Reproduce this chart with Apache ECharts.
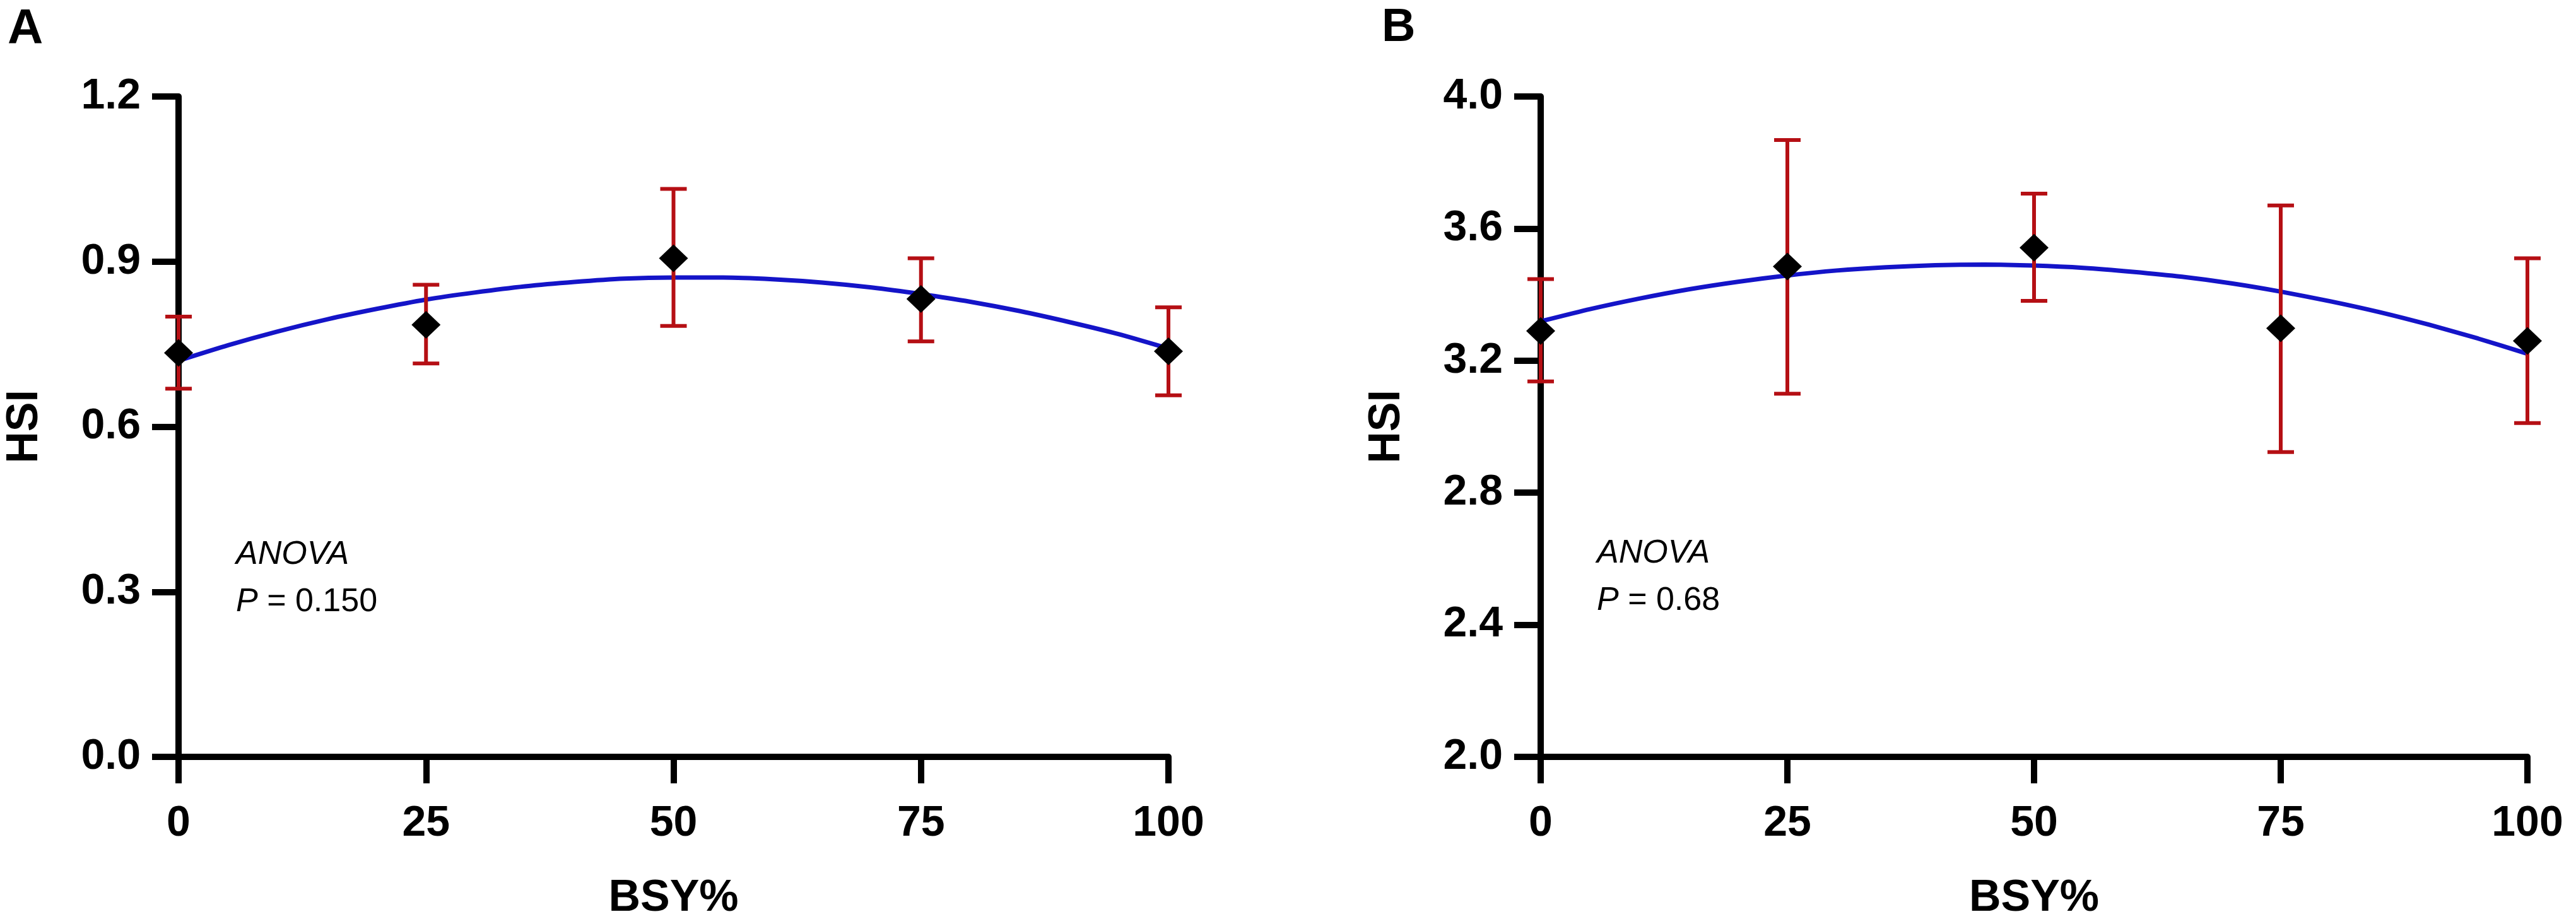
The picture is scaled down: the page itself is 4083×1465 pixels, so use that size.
<!DOCTYPE html>
<html>
<head>
<meta charset="utf-8">
<script src="https://cdn.jsdelivr.net/npm/echarts@6/dist/echarts.min.js"></script>
<style>
html,body{margin:0;padding:0;background:#fff;}
#chart{width:4083px;height:1465px;}
</style>
</head>
<body>
<div id="chart"></div>
<script>
// ---- data ----
const bsy = [0, 25, 50, 75, 100];
const xTicks = [0, 25, 50, 75, 100];

// Panel A
const hsiA_mean = [0.734, 0.785, 0.906, 0.832, 0.737];
const hsiA_low  = [0.669, 0.715, 0.783, 0.755, 0.657];
const hsiA_high = [0.800, 0.858, 1.032, 0.906, 0.817];
// fitted curve, every 5 %
const fitX = [0, 5, 10, 15, 20, 25, 30, 35, 40, 45, 50, 55, 60, 65, 70, 75, 80, 85, 90, 95, 100];
const fitA = [0.720, 0.748, 0.773, 0.795, 0.814, 0.831, 0.844, 0.855, 0.863, 0.869, 0.871,
              0.871, 0.868, 0.862, 0.853, 0.841, 0.827, 0.810, 0.790, 0.768, 0.742];
const yTicksA = [0.0, 0.3, 0.6, 0.9, 1.2];
const pA = '0.150';

// Panel B
const hsiB_mean = [3.290, 3.485, 3.542, 3.298, 3.260];
const hsiB_low  = [3.137, 3.100, 3.381, 2.923, 3.011];
const hsiB_high = [3.447, 3.868, 3.706, 3.670, 3.510];
const fitB = [3.319, 3.356, 3.388, 3.416, 3.439, 3.458, 3.473, 3.483, 3.489, 3.491, 3.488,
              3.481, 3.469, 3.454, 3.434, 3.409, 3.380, 3.347, 3.309, 3.267, 3.221];
const yTicksB = [2.0, 2.4, 2.8, 3.2, 3.6, 4.0];
const pB = '0.68';

// ---- styles ----
const FONT = '"Liberation Sans", Arial, sans-serif';
const AXIS_W = 10;
const ERR_COLOR = '#b50f14';
const FIT_COLOR = '#1414c8';

const chart = echarts.init(document.getElementById('chart'), null, {renderer: 'canvas'});

function errSeries(gi, xs, lows, highs) {
  return {
    type: 'custom',
    xAxisIndex: gi, yAxisIndex: gi,
    z: 3,
    data: xs.map((x, i) => [x, lows[i], highs[i]]),
    renderItem: function (params, api) {
      const lo = api.coord([api.value(0), api.value(1)]);
      const hi = api.coord([api.value(0), api.value(2)]);
      const hw = 21;
      const st = {stroke: ERR_COLOR, lineWidth: 6, fill: null};
      return {
        type: 'group',
        children: [
          {type: 'line', shape: {x1: lo[0], y1: lo[1], x2: hi[0], y2: hi[1]}, style: st},
          {type: 'line', shape: {x1: lo[0] - hw, y1: lo[1], x2: lo[0] + hw, y2: lo[1]}, style: st},
          {type: 'line', shape: {x1: hi[0] - hw, y1: hi[1], x2: hi[0] + hw, y2: hi[1]}, style: st}
        ]
      };
    },
    silent: true
  };
}

function fitSeries(gi, ys) {
  return {
    type: 'line', xAxisIndex: gi, yAxisIndex: gi, z: 2,
    data: fitX.map((x, i) => [x, ys[i]]),
    smooth: 0.2, showSymbol: false, symbol: 'none',
    lineStyle: {color: FIT_COLOR, width: 7, opacity: 1},
    silent: true
  };
}

function pointSeries(gi, ys) {
  return {
    type: 'scatter', xAxisIndex: gi, yAxisIndex: gi, z: 4,
    data: bsy.map((x, i) => [x, ys[i]]),
    symbol: 'diamond', symbolSize: [46, 44],
    itemStyle: {color: '#000', opacity: 1},
    silent: true
  };
}

function xAxisCfg(gi) {
  return {
    type: 'value', gridIndex: gi,
    min: xTicks[0], max: xTicks[xTicks.length - 1], interval: xTicks[1] - xTicks[0],
    name: 'BSY%', nameLocation: 'middle', nameGap: 190,
    nameTextStyle: {fontFamily: FONT, fontWeight: 'bold', fontSize: 70, color: '#000'},
    axisLine: {show: true, onZero: false, lineStyle: {color: '#000', width: AXIS_W}},
    axisTick: {show: true, length: 42, lineStyle: {color: '#000', width: AXIS_W}},
    axisLabel: {fontFamily: FONT, fontWeight: 'bold', fontSize: 68, color: '#000', margin: 72},
    splitLine: {show: false}
  };
}

function yAxisCfg(gi, ticks) {
  return {
    type: 'value', gridIndex: gi,
    min: ticks[0], max: ticks[ticks.length - 1],
    interval: Math.round((ticks[1] - ticks[0]) * 10) / 10,
    name: 'HSI', nameLocation: 'middle', nameGap: 208, nameRotate: 90,
    nameTextStyle: {fontFamily: FONT, fontWeight: 'bold', fontSize: 70, color: '#000'},
    axisLine: {show: true, onZero: false, lineStyle: {color: '#000', width: AXIS_W}},
    axisTick: {show: true, length: 42, lineStyle: {color: '#000', width: AXIS_W}},
    axisLabel: {fontFamily: FONT, fontWeight: 'bold', fontSize: 68, color: '#000', margin: 60,
      formatter: v => v.toFixed(1)},
    splitLine: {show: false}
  };
}

function anovaText(left, top, p) {
  return {
    type: 'text', left: left, top: top,
    style: {
      text: '{i|ANOVA}\n{i|P}{n| = ' + p + '}',
      rich: {
        i: {fontFamily: FONT, fontStyle: 'italic', fontSize: 52, lineHeight: 75, fill: '#000'},
        n: {fontFamily: FONT, fontSize: 52, lineHeight: 75, fill: '#000'}
      },
      fill: '#000'
    }
  };
}

const option = {
  backgroundColor: '#fff',
  animation: false,
  grid: [
    {left: 283, top: 153, width: 1569, height: 1049},
    {left: 2442, top: 153, width: 1564, height: 1049}
  ],
  xAxis: [xAxisCfg(0), xAxisCfg(1)],
  yAxis: [yAxisCfg(0, yTicksA), yAxisCfg(1, yTicksB)],
  graphic: [
    {type: 'text', left: 12, top: 8, style: {text: 'A', fontFamily: FONT, fontWeight: 'bold', fontSize: 78, fill: '#000'}},
    {type: 'text', left: 2190, top: 8, style: {text: 'B', fontFamily: FONT, fontWeight: 'bold', fontSize: 74, fill: '#000'}},
    anovaText(374, 854, pA),
    anovaText(2531, 852, pB)
  ],
  series: [
    fitSeries(0, fitA), errSeries(0, bsy, hsiA_low, hsiA_high), pointSeries(0, hsiA_mean),
    fitSeries(1, fitB), errSeries(1, bsy, hsiB_low, hsiB_high), pointSeries(1, hsiB_mean)
  ]
};
chart.setOption(option);
</script>
</body>
</html>
